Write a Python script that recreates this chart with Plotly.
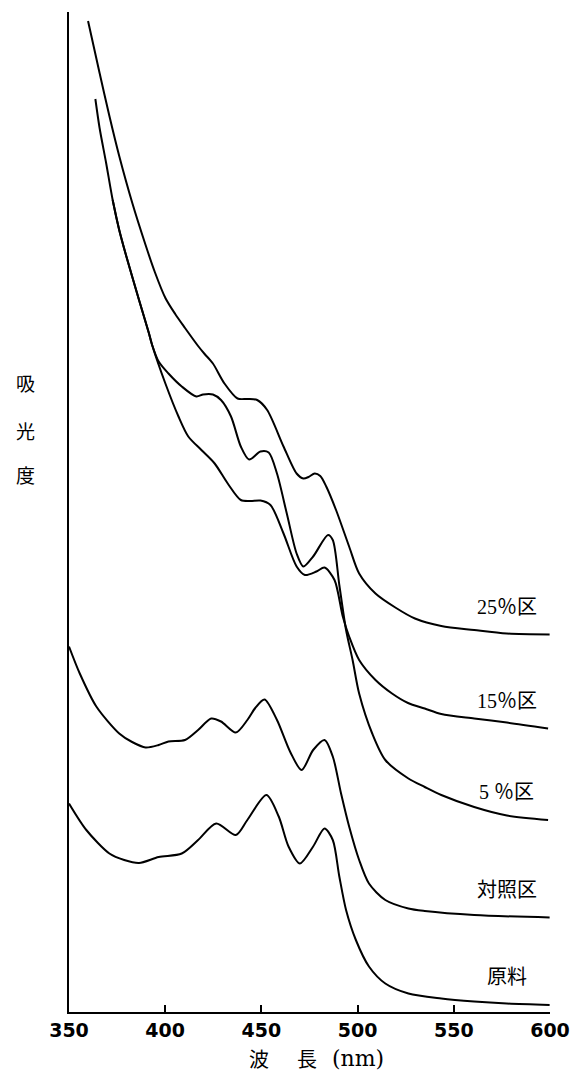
import plotly.graph_objects as go

# Absorption spectra: wavelength (nm) and absorbance (relative units) per sample
wl_25 = [359.9, 365.9, 371.0, 376.1, 382.9, 389.8, 394.6, 400.1, 405.2, 410.3, 417.1, 420.5,
         424.8, 430.8, 437.6, 442.7, 447.8, 453.0, 461.5, 468.3, 471.8, 474.5, 477.7, 480.6,
         483.7, 488.8, 495.6, 500.8, 509.3, 519.6, 529.8, 543.5, 560.6, 577.6, 599.8]
abs_25 = [1.982, 1.878, 1.792, 1.712, 1.618, 1.534, 1.480, 1.428, 1.396, 1.368, 1.332, 1.316,
          1.297, 1.257, 1.227, 1.226, 1.224, 1.204, 1.131, 1.077, 1.067, 1.070, 1.077, 1.072,
          1.051, 1.004, 0.931, 0.877, 0.837, 0.809, 0.787, 0.772, 0.764, 0.757, 0.755]

wl_15 = [363.7, 365.9, 369.3, 372.7, 376.1, 379.6, 386.4, 391.5, 393.2, 400.1, 406.9, 412.0,
         418.8, 425.7, 432.5, 439.3, 444.3, 449.5, 454.7, 461.5, 468.3, 472.6, 478.6, 482.8,
         488.0, 492.3, 495.6, 500.8, 509.3, 517.9, 526.2, 534.9, 543.5, 560.6, 577.6, 599.0]
abs_15 = [1.826, 1.768, 1.698, 1.624, 1.564, 1.514, 1.424, 1.358, 1.334, 1.257, 1.191, 1.151,
          1.124, 1.097, 1.057, 1.024, 1.022, 1.023, 1.014, 0.957, 0.891, 0.874, 0.881, 0.889,
          0.864, 0.791, 0.751, 0.704, 0.664, 0.637, 0.618, 0.607, 0.596, 0.587, 0.579, 0.567]

wl_5 = [372.7, 376.1, 379.6, 386.4, 391.5, 393.2, 396.6, 401.7, 408.6, 416.2, 419.7, 424.8,
        429.0, 434.2, 439.3, 443.6, 449.5, 453.8, 458.1, 463.2, 468.3, 471.8, 476.9, 484.6,
        487.1, 490.5, 494.0, 497.4, 500.8, 507.6, 514.4, 526.4, 534.9, 543.5, 560.6, 577.6,
        599.0]
abs_5 = [1.624, 1.564, 1.514, 1.424, 1.358, 1.334, 1.301, 1.277, 1.251, 1.231, 1.235, 1.235,
         1.224, 1.191, 1.131, 1.105, 1.121, 1.119, 1.077, 0.997, 0.917, 0.891, 0.911, 0.954,
         0.944, 0.854, 0.764, 0.704, 0.637, 0.557, 0.504, 0.467, 0.450, 0.434, 0.410, 0.393,
         0.384]

wl_ctrl = [350.0, 355.6, 364.2, 376.1, 382.8, 389.8, 396.6, 401.7, 410.3, 417.1, 423.9, 429.0,
           436.7, 442.7, 446.8, 451.6, 458.1, 465.0, 470.9, 476.9, 482.8, 487.1, 491.4, 495.6,
           500.8, 505.9, 514.4, 526.4, 534.9, 560.6, 599.8]
abs_ctrl = [0.731, 0.677, 0.611, 0.557, 0.540, 0.529, 0.534, 0.541, 0.544, 0.564, 0.587, 0.581,
            0.559, 0.584, 0.608, 0.625, 0.584, 0.520, 0.484, 0.524, 0.544, 0.511, 0.437, 0.371,
            0.304, 0.257, 0.224, 0.207, 0.202, 0.194, 0.189]

wl_raw = [350.0, 359.0, 371.0, 378.7, 386.4, 396.6, 408.6, 417.1, 426.5, 436.7, 442.7, 452.6,
          459.0, 464.1, 470.0, 476.9, 482.8, 487.1, 490.5, 494.0, 499.1, 505.9, 514.4, 526.4,
          543.5, 560.6, 577.6, 599.8]
abs_raw = [0.417, 0.364, 0.317, 0.304, 0.298, 0.310, 0.317, 0.344, 0.377, 0.354, 0.384, 0.434,
           0.391, 0.331, 0.297, 0.331, 0.367, 0.344, 0.271, 0.204, 0.144, 0.091, 0.057, 0.037,
           0.027, 0.021, 0.017, 0.014]

labels = ["25％区", "15％区", "5 ％区", "対照区", "原料"]
wavelengths = [wl_25, wl_15, wl_5, wl_ctrl, wl_raw]
absorbances = [abs_25, abs_15, abs_5, abs_ctrl, abs_raw]

x_ticks = [350, 400, 450, 500, 550, 600]

LABEL_FONT = dict(family="Liberation Serif, Noto Sans CJK JP", size=20, color="black")
CJK_FONT = dict(family="Noto Sans CJK JP", size=19, color="black")

fig = go.Figure()

for name, wl, ab in zip(labels, wavelengths, absorbances):
    fig.add_trace(go.Scatter(
        x=wl, y=ab, mode="lines", name=name,
        line=dict(color="black", width=2, shape="spline", smoothing=0.8),
        showlegend=False, hoverinfo="skip",
    ))
    # curve label sits just above the tail of its spectrum
    fig.add_annotation(
        x=577.5, y=ab[-1] + 0.056, xref="x", yref="y",
        text=name, showarrow=False, font=LABEL_FONT,
        xanchor="center", yanchor="middle",
    )

# vertical axis title, one character per line
for ch, ypos in zip("吸光度", [0.630, 0.582, 0.537]):
    fig.add_annotation(
        x=-0.090, y=ypos, xref="paper", yref="paper", text=ch,
        showarrow=False, font=CJK_FONT, xanchor="center", yanchor="middle",
    )

# horizontal axis title
fig.add_annotation(x=0.3955, y=-0.046, xref="paper", yref="paper", text="波",
                   showarrow=False, font=dict(CJK_FONT, size=20), xanchor="center", yanchor="middle")
fig.add_annotation(x=0.4939, y=-0.046, xref="paper", yref="paper", text="長",
                   showarrow=False, font=dict(CJK_FONT, size=20), xanchor="center", yanchor="middle")
fig.add_annotation(x=0.6004, y=-0.046, xref="paper", yref="paper", text="(nm)",
                   showarrow=False, font=dict(family="DejaVu Serif", size=22, color="black"),
                   xanchor="center", yanchor="middle")

fig.update_xaxes(
    range=[350, 600], tickvals=x_ticks, ticktext=[str(t) for t in x_ticks],
    ticks="inside", ticklen=7, tickwidth=2, tickcolor="black",
    showline=True, linewidth=2, linecolor="black",
    showgrid=False, zeroline=False,
    tickfont=dict(family="DejaVu Sans", size=19, color="black", weight="bold"),
)
fig.update_yaxes(
    range=[0, 2.0], showline=True, linewidth=2, linecolor="black",
    showticklabels=False, ticks="", showgrid=False, zeroline=False,
)
fig.update_layout(
    width=582, height=1085,
    margin=dict(l=69, r=25, t=12, b=73),
    plot_bgcolor="white", paper_bgcolor="white",
)

fig.write_html("out.html")
